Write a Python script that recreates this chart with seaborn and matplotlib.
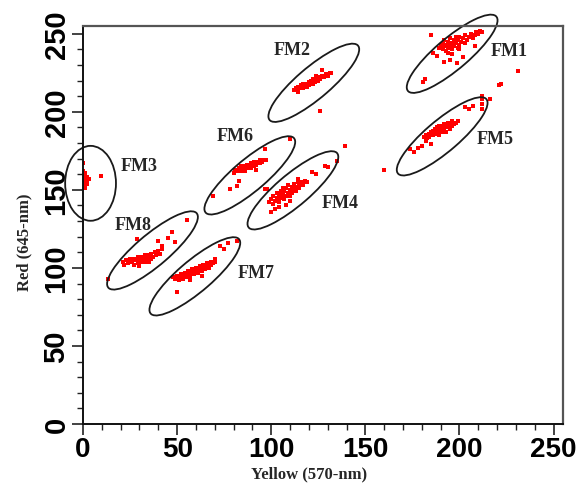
import numpy as np
import pandas as pd
import matplotlib
matplotlib.use("Agg")
import matplotlib.pyplot as plt
import seaborn as sns
from matplotlib.patches import Ellipse
from matplotlib.ticker import MultipleLocator

# =========================
# DATA
# =========================
fm1_x = [189, 190, 191, 191, 192, 192, 193, 193, 194, 194, 195, 195, 196, 196, 197, 197, 198, 198, 199, 199,
         200, 200, 201, 202, 203, 203, 204, 205, 206, 207, 208, 209, 210, 211, 212, 194, 196, 200,
         188, 192, 198.5, 195, 201.7, 181.5, 180.5, 185, 208, 186, 222, 231, 221]
fm1_y = [241, 243, 240, 244, 242, 246, 239, 243, 241, 245, 243, 247, 240, 244, 242, 246, 244, 248, 241, 246,
         243, 248, 245, 247, 244, 249, 246, 248, 250, 247, 249, 251, 250, 252, 251, 238, 237, 240,
         236, 232, 231, 233, 235, 221, 219, 249, 242, 238, 218, 226, 217]

fm2_x = [112, 113, 114, 114, 115, 116, 117, 117, 118, 119, 120, 120, 121, 122, 122, 123, 124, 125, 125, 126,
         127, 128, 129, 130, 131, 132, 119, 124, 127, 125.8]
fm2_y = [214, 215, 213, 216, 215, 217, 215, 218, 216, 218, 217, 219, 220, 218, 221, 219, 221, 220, 222, 221,
         223, 222, 224, 223, 225, 225, 216, 223, 227, 200.6]

fm3_x = [0, 0, 0, 0, 0, 1, 1, 1, 1, 1, 2, 2, 2, 3, 0, 1, 0, 9.4]
fm3_y = [152, 154, 156, 158, 160, 153, 155, 157, 159, 161, 154, 156, 158, 157, 162, 151, 167, 159]

fm4_x = [99, 100, 101, 101, 102, 103, 103, 104, 104, 105, 105, 106, 106, 107, 107, 108, 108, 109, 109, 110,
         110, 111, 111, 112, 112, 113, 113, 114, 115, 115, 116, 117, 118, 119, 108, 104, 110, 114,
         134.8, 128.5, 130, 100, 97.6, 121.5, 124, 102, 139]
fm4_y = [142, 144, 141, 146, 143, 145, 148, 142, 147, 145, 149, 147, 151, 144, 149, 146, 151, 148, 153, 150,
         146, 152, 148, 150, 154, 149, 152, 155, 151, 153, 155, 153, 156, 155, 140, 139, 143, 157,
         168.6, 165.4, 164.7, 136, 150.6, 161.5, 160, 138, 178]

fm5_x = [181, 182, 183, 184, 184, 185, 186, 186, 187, 187, 188, 188, 189, 189, 190, 190, 191, 191, 192, 192,
         193, 193, 194, 194, 195, 195, 196, 196, 197, 198, 199, 189,
         173.6, 176, 180, 185, 182, 178, 202.8, 207, 211.8, 211.8, 211.8, 216, 205, 160, 212]
fm5_y = [184, 185, 183, 186, 184, 187, 185, 188, 186, 189, 187, 190, 188, 185, 189, 191, 187, 190, 189, 192,
         190, 187, 191, 193, 189, 192, 191, 194, 192, 193, 194, 191,
         176, 174, 178, 179.5, 181, 177, 203, 204, 208, 205, 202, 208, 202, 163, 210]

fm6_x = [80, 81, 82, 83, 84, 84, 85, 86, 87, 87, 88, 89, 89, 90, 91, 91, 92, 93, 94, 94, 95, 96, 97, 86, 92,
         96.6, 110, 69, 78, 81.7, 96.6, 83]
fm6_y = [161, 163, 162, 164, 162, 165, 163, 165, 164, 166, 165, 167, 164, 166, 165, 168, 166, 168, 167, 169,
         168, 169, 169, 162, 163, 176, 182.7, 146, 150.6, 152.6, 150.6, 156]

fm7_x = [49, 50, 51, 52, 52, 53, 54, 54, 55, 56, 56, 57, 58, 58, 59, 60, 60, 61, 62, 62, 63, 64, 64, 65, 66,
         66, 67, 68, 68, 69, 70, 70, 57, 63, 72.7, 77, 81.7, 50, 47.8, 75]
fm7_y = [93, 95, 92, 94, 96, 93, 95, 97, 94, 96, 98, 95, 97, 99, 96, 98, 100, 97, 99, 101, 98, 100, 102, 99,
         101, 103, 100, 102, 104, 103, 104, 106, 92, 95, 114, 116, 117, 84.6, 94, 112]

fm8_x = [21, 22, 23, 24, 25, 26, 27, 27, 28, 29, 29, 30, 31, 31, 32, 33, 33, 34, 35, 36, 36, 37, 38, 39, 40,
         41, 42, 42, 30, 35, 47.2, 55, 48.8, 28.7, 13.3, 40, 45]
fm8_y = [104, 102, 105, 103, 106, 104, 102, 106, 105, 103, 107, 105, 107, 104, 106, 104, 108, 106, 108, 106,
         109, 107, 110, 108, 111, 109, 112, 114, 101, 104, 123, 131, 116.7, 118.6, 93, 117, 119]

# ellipse outlines (data units) and label anchors
groups = ["FM1", "FM2", "FM3", "FM4", "FM5", "FM6", "FM7", "FM8"]
ell_cx = [196.1, 122.6, 4.0, 111.5, 190.8, 88.6, 59.4, 36.9]
ell_cy = [237.2, 218.6, 154.2, 149.7, 184.3, 159.3, 94.6, 111.2]
ell_w = [67, 67, 27, 67, 67, 67, 67, 67]
ell_h = [18.8, 18.8, 48, 18.8, 18.8, 18.8, 18.8, 18.8]
ell_ang = [46.3, 46.3, 0, 46.3, 46.3, 46.3, 46.3, 46.3]
lab_x = [226.6, 111, 30, 136.4, 219, 81, 91.8, 26.5]
lab_y = [239, 240, 165.4, 142, 182.7, 184.6, 96.8, 128]

xs = [fm1_x, fm2_x, fm3_x, fm4_x, fm5_x, fm6_x, fm7_x, fm8_x]
ys = [fm1_y, fm2_y, fm3_y, fm4_y, fm5_y, fm6_y, fm7_y, fm8_y]
df = pd.concat([pd.DataFrame({"yellow": x, "red": y, "group": g}) for x, y, g in zip(xs, ys, groups)])

# =========================
# PLOT
# =========================
sns.set_style("ticks")
plt.rcParams["font.family"] = ["Liberation Serif", "DejaVu Serif"]

fig = plt.figure(figsize=(5.79, 4.89), dpi=100)
ax = fig.add_axes([0.1434, 0.1309, 0.829, 0.8139])

sns.scatterplot(data=df, x="yellow", y="red", color="#ff0000", marker="s",
                s=9, linewidth=0, ax=ax, legend=False)

for i in range(len(groups)):
    ax.add_patch(Ellipse((ell_cx[i], ell_cy[i]), ell_w[i], ell_h[i], angle=ell_ang[i],
                         fill=False, edgecolor="#1a1a1a", lw=1.3, clip_on=False))
    ax.text(lab_x[i], lab_y[i], groups[i], fontsize=13, fontweight="bold",
            ha="center", va="center")

ax.set_xlim(0, 255)
ax.set_ylim(0, 255)
ax.xaxis.set_major_locator(MultipleLocator(50))
ax.yaxis.set_major_locator(MultipleLocator(50))
ax.xaxis.set_minor_locator(MultipleLocator(10))
ax.yaxis.set_minor_locator(MultipleLocator(10))
ax.tick_params(which="major", length=8, width=1.2, color="#222222", pad=1, labelcolor="black")
ax.tick_params(which="minor", length=4, width=1.0, color="#222222")

for lab in ax.get_xticklabels():
    lab.set_family(["Liberation Sans", "DejaVu Sans"])
    lab.set_fontsize(20)
    lab.set_fontweight("bold")
for lab in ax.get_yticklabels():
    lab.set_family(["Liberation Sans", "DejaVu Sans"])
    lab.set_fontsize(21)
    lab.set_fontweight("bold")
    lab.set_rotation(90)
    lab.set_va("center")

for side in ["left", "bottom"]:
    ax.spines[side].set_linewidth(1.4)
    ax.spines[side].set_color("#111111")
for side in ["top", "right"]:
    ax.spines[side].set_linewidth(1.6)
    ax.spines[side].set_color("#555555")

ax.set_xlabel("Yellow (570-nm)", fontsize=12, fontweight="bold")
ax.set_ylabel("Red (645-nm)", fontsize=12, fontweight="bold")
ax.xaxis.set_label_coords(0.47, -0.105)
ax.yaxis.set_label_coords(-0.106, 0.46)

fig.savefig("out.png", dpi=100)
